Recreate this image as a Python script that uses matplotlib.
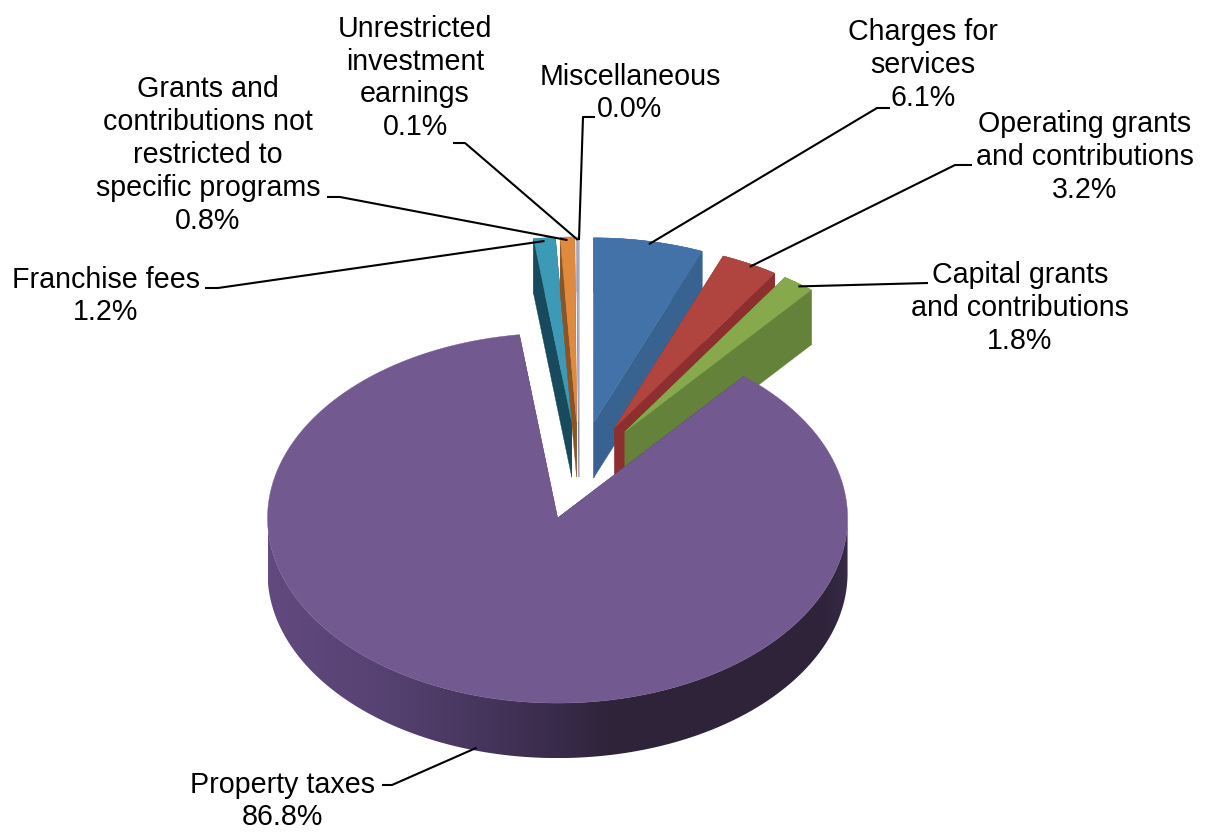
"""
Revenue by source, drawn as an exploded 3-D pie.
"""
import numpy as np
import matplotlib.pyplot as plt
from matplotlib.colors import LinearSegmentedColormap
from matplotlib.patches import Polygon

plt.rcParams['font.family'] = ['Liberation Sans', 'DejaVu Sans']

categories = ['Charges for\nservices', 'Operating grants\nand contributions',
              'Capital grants\nand contributions', 'Property taxes',
              'Franchise fees', 'Grants and\ncontributions not\nrestricted to\nspecific programs',
              'Unrestricted\ninvestment\nearnings', 'Miscellaneous']
shares = [6.1, 3.2, 1.8, 86.8, 1.2, 0.8, 0.1, 0.0]

top_colors = ['#4372a8', '#b0453f', '#86a94b', '#725990', '#3c9ab6', '#e08a3e', '#a9abc9', '#cccccc']
side_colors = ['#38628f', '#8c2f2e', '#64823a', '#4a3a62', '#174a5c', '#8a5426', '#7d7f99', '#999999']

# where each label sits and the way its leader bends
label_xy = [(923, 65), (1085, 157), (1020, 308), (282, 801),
            (106, 296), (208, 155), (415, 78), (630, 93)]
leader_bends = [[(877, 108), (890, 108)], [(955, 165), (972, 165)], [(928, 283)], [(392, 785), (382, 785)],
                [(218, 288), (205, 288)], [(340, 197), (327, 197)], [(465, 143), (453, 143)],
                [(583, 117), (595, 117)]]

# pie geometry, in pixels
center_x, center_y = 579, 471
radius_x, radius_y = 290, 185
depth = 55
explode = 0.265

# shading of the outer wall of the large slice, left to right
wall_cmap = LinearSegmentedColormap.from_list(
    'wall', [(0.0, '#62497f'), (0.2, '#564272'), (0.45, '#3e2f52'), (0.6, '#2e2339'),
             (0.95, '#2e2339'), (1.0, '#352945')])


def rim(start_x, start_y, angle):
    """Point on the ellipse for a clockwise angle in degrees from 12 o'clock."""
    a = np.radians(angle)
    return start_x + radius_x * np.sin(a), start_y - radius_y * np.cos(a)


fig = plt.figure(figsize=(12.09, 8.36), dpi=100)
ax = fig.add_axes([0, 0, 1, 1])
ax.axis('off')

edges = np.cumsum([0] + shares) * 3.6
for i in range(len(shares)):
    start, end = edges[i], edges[i + 1]
    if shares[i] == 0:
        continue
    mid = (start + end) / 2
    a = np.radians(mid)
    apex_x = center_x + explode * radius_x * np.sin(a)
    apex_y = center_y - explode * radius_y * np.cos(a)

    angles = np.linspace(start, end, max(int(end - start) * 2, 4))
    xs, ys = rim(apex_x, apex_y, angles)

    # cut faces
    for k in (0, -1):
        face = [(apex_x, apex_y), (xs[k], ys[k]), (xs[k], ys[k] + depth), (apex_x, apex_y + depth)]
        ax.add_patch(Polygon(face, closed=True, fc=side_colors[i], ec=side_colors[i], lw=0.3))

    # outer wall: a horizontal gradient clipped to the front half of the rim
    if end - start > 90:
        front = np.linspace(max(start, 90), min(end, 270), 361)
        fx, fy = rim(apex_x, apex_y, front)
        outline = np.vstack([np.c_[fx, fy], np.c_[fx[::-1], fy[::-1] + depth]])
        wall = Polygon(outline, closed=True, fc='none', ec='none')
        ax.add_patch(wall)
        image = ax.imshow(np.linspace(0, 1, 580)[None, :], cmap=wall_cmap, aspect='auto',
                          extent=(apex_x - radius_x, apex_x + radius_x, fy.max() + depth, fy.min()))
        image.set_clip_path(wall)
    else:
        ax.add_patch(Polygon(np.vstack([np.c_[xs, ys], np.c_[xs[::-1], ys[::-1] + depth]]),
                             closed=True, fc=side_colors[i], ec=side_colors[i], lw=0.3))

    top = np.vstack([[apex_x, apex_y], np.c_[xs, ys]])
    ax.add_patch(Polygon(top, closed=True, fc=top_colors[i], ec=top_colors[i], lw=0.3))

ax.set_xlim(0, 1209)
ax.set_ylim(836, 0)

# labels and leaders go over every slice
for i, name in enumerate(categories):
    mid = (edges[i] + edges[i + 1]) / 2
    a = np.radians(mid)
    apex_x = center_x + explode * radius_x * np.sin(a)
    apex_y = center_y - explode * radius_y * np.cos(a)
    if name == 'Property taxes':
        # the leader meets the outer wall at its lower edge
        x0, y0 = rim(apex_x, apex_y + depth - 3, mid)
    else:
        x0, y0 = rim(apex_x, apex_y + 3, mid)
    path = [(x0, y0)] + leader_bends[i]
    ax.plot([p[0] for p in path], [p[1] for p in path], color='black', lw=1.5,
            solid_capstyle='butt', solid_joinstyle='round')
    ax.text(label_xy[i][0], label_xy[i][1], f'{name}\n{shares[i]:.1f}%', ha='center', va='center',
            multialignment='center', fontsize=20.6, color='black', linespacing=1.22)

plt.savefig('out.png', dpi=100)
